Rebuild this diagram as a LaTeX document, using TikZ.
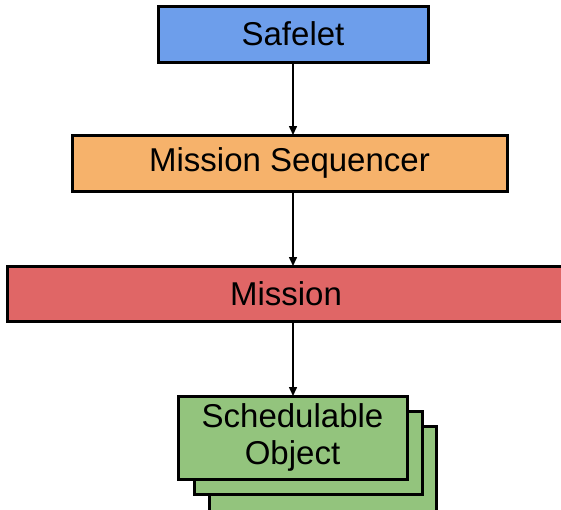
\documentclass[tikz,border=0pt]{standalone}
\usepackage{fontspec}
\setmainfont{Liberation Sans}
\usetikzlibrary{arrows.meta}
\definecolor{cblue}{HTML}{6D9EEB}
\definecolor{corange}{HTML}{F6B26B}
\definecolor{cred}{HTML}{E06666}
\definecolor{cgreen}{HTML}{93C47D}
\begin{document}
\begin{tikzpicture}[x=1pt,y=-1pt,
  box/.style={draw=black, line width=3pt, inner sep=0pt, outer sep=0pt, font=\fontsize{33}{37}\selectfont, align=center},
  arr/.style={line width=1.5pt, -{Triangle[length=9pt,width=8pt]}}]
\useasboundingbox (0,0) rectangle (561,509);
\clip (0,0) rectangle (561,509);
\node[box, fill=cblue, minimum width=270pt, minimum height=56pt] (safelet) at (293,34) {Safelet};
\node[box, fill=corange, minimum width=435pt, minimum height=56pt] (seq) at (289.5,163) {Mission Sequencer};
\node[box, fill=cred, minimum width=600pt, minimum height=55pt] (mission) at (307,293.5) {\hspace*{-42pt}Mission};
\node[box, fill=cgreen, minimum width=227pt, minimum height=100pt] (so3) at (322.5,476) {};
\node[box, fill=cgreen, minimum width=228pt, minimum height=83pt] (so2) at (308,452.5) {};
\node[box, fill=cgreen, minimum width=229pt, minimum height=83pt] (so1) at (292.5,437.5) {Schedulable\\Object};
\coordinate (a1) at (293,0);
\draw[arr] (safelet.south -| a1) -- (seq.north -| a1);
\draw[arr] (seq.south -| a1) -- (mission.north -| a1);
\draw[arr] (mission.south -| a1) -- (so1.north -| a1);
\end{tikzpicture}
\end{document}
